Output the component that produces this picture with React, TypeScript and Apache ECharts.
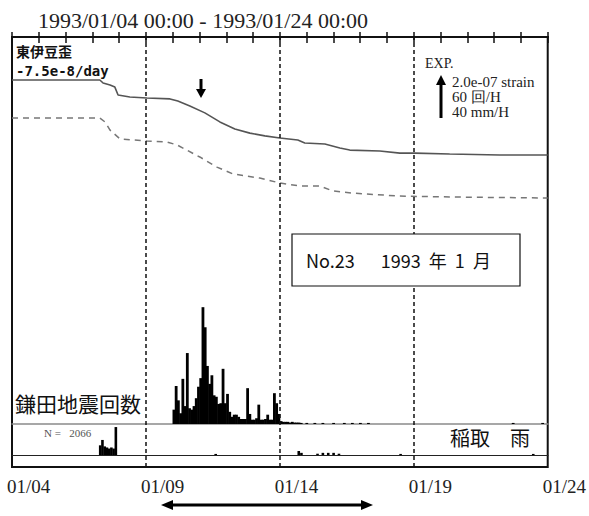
import { useEffect, useRef } from 'react';
import * as echarts from 'echarts';

// x axis: days since 1993/01/04 00:00
const tickLabels = ['01/04', '01/09', '01/14', '01/19', '01/24'];
const titleText = '1993/01/04 00:00 - 1993/01/24 00:00';

// strain (units of 1e-8 strain, relative)
const solidDays = [0, 3.28, 3.4, 3.66, 3.84, 3.96, 4.4, 5.04, 5.9, 6.19, 6.64, 7.2, 7.76, 8.32, 8.88, 9.44, 10.0, 10.67, 10.93, 11.68, 12.24, 12.61, 13.73, 14.48, 15.04, 16.34, 18.21, 20];
const solidStrain = [-20, -20, -21.4, -22.3, -23.3, -27, -27.9, -28.4, -28.8, -29.8, -32.1, -35.3, -39.5, -42.8, -44.7, -46, -47, -47.9, -49.3, -49.8, -51.6, -52.6, -53, -54, -54, -54.4, -54.9, -54.9];
const dashedDays = [0, 3.28, 3.47, 3.66, 4.03, 5.04, 5.78, 6.16, 7.01, 7.65, 8.25, 9.25, 10.0, 10.75, 11.49, 11.98, 12.72, 14.48, 16.34, 20];
const dashedStrain = [-37.7, -37.7, -39.5, -43.3, -47.4, -48.4, -48.8, -50.2, -55.8, -60.5, -63.7, -65.6, -67.9, -69.3, -69.3, -71.6, -72.6, -74, -74.4, -74.9];

// earthquake counts per hour, 2-hour bins from 01/10 00:00
const quakeStartDay = 6;
const quakeBinDays = 2 / 24;
const quakeCounts = [20, 53, 33, 15, 63, 25, 99, 22, 20, 25, 36, 52, 64, 163, 135, 81, 56, 68, 40, 38, 28, 29, 77, 29, 42, 17, 10, 13, 13, 10, 7, 7, 7, 50, 14, 6, 6, 8, 27, 6, 6, 7, 13, 6, 6, 43, 29, 14, 4, 3, 3, 3, 2, 3, 2, 2, 2, 1.5];
const quakeTailDays = [11.0, 11.3, 11.6, 12.0, 12.4, 12.7, 13.0, 13.3, 18.7, 19.8];
const quakeTailCounts = [1.5, 1.5, 1.5, 1.5, 1.5, 1.5, 1.5, 1.5, 1.5, 1.5];

// rain mm per hour, 2-hour bins from 01/07 06:00
const rainStartDay = 3.25;
const rainBinDays = 2 / 24;
const rainValues = [9, 14, 8, 7, 6, 7, 6, 26];
const rainTailDays = [7.6, 10.7, 10.8, 11.4, 11.6, 11.8, 12.0, 12.2, 14.5, 19.45];
const rainTailValues = [1, 3.7, 2, 1.2, 2, 2, 2, 1.2, 1, 1];

// scale bar: 43 px = 2.0e-07 strain = 60 counts/H = 40 mm/H
const SCALE_PX = 43;
const STRAIN_SCALE = 20;
const QUAKE_SCALE = 60;
const RAIN_SCALE = 40;

const W = 589;
const H = 516;
const L = 12;
const R = 548;
const TOP = 37;
const BOT = 467;
const QUAKE_BASE = 424;
const QUAKE_TOP = 300;
const RAIN_BASE = 455;

const SERIF = 'Liberation Serif';
const JP = 'Noto Sans CJK JP';

export default function App() {
  const ref = useRef<HTMLDivElement>(null);
  useEffect(() => {
    if (!ref.current) return;
    const chart = echarts.init(ref.current, null, { renderer: 'svg' });

    const quakeData: number[][] = quakeCounts.map((c, i) => [quakeStartDay + (i + 0.5) * quakeBinDays, c]);
    quakeTailDays.forEach((d, i) => quakeData.push([d, quakeTailCounts[i]]));
    const rainData: number[][] = rainValues.map((c, i) => [rainStartDay + (i + 0.5) * rainBinDays, c]);
    rainTailDays.forEach((d, i) => rainData.push([d, rainTailValues[i]]));

    const strainGridH = BOT - TOP;
    const quakeGridH = QUAKE_BASE - QUAKE_TOP;
    const rainGridH = RAIN_BASE - QUAKE_BASE;

    const baseX = {
      type: 'value',
      min: 0,
      max: 20,
      interval: 1,
      splitLine: { show: false },
    };

    const txt = (text: string, x: number, y: number, font: string, fill = '#111') => ({
      type: 'text',
      x,
      y,
      style: { text, font, fill, textVerticalAlign: 'middle', verticalAlign: 'middle' },
      z: 100,
    });

    chart.setOption({
      animation: false,
      backgroundColor: '#fff',
      title: {
        text: titleText,
        left: 38,
        top: 9,
        padding: 0,
        textStyle: { fontFamily: SERIF, fontSize: 22, fontWeight: 'normal', color: '#222' },
      },
      grid: [
        { left: L, width: R - L, top: TOP, height: strainGridH, show: true, borderColor: '#111', borderWidth: 2, backgroundColor: 'transparent' },
        { left: L, width: R - L, top: QUAKE_TOP, height: quakeGridH },
        { left: L, width: R - L, top: QUAKE_BASE, height: rainGridH },
      ],
      xAxis: [
        {
          ...baseX,
          gridIndex: 0,
          position: 'bottom',
          axisLine: { show: true, lineStyle: { color: '#111', width: 2 } },
          axisTick: { show: true, inside: true, length: 5, lineStyle: { color: '#111', width: 1.5 } },
          axisLabel: {
            show: true,
            margin: 10,
            align: 'left',
            padding: [0, 0, 0, -5],
            fontFamily: SERIF,
            fontSize: 19,
            color: '#222',
            formatter: (v: number) => (v % 5 === 0 ? tickLabels[v / 5] : ''),
          },
        },
        {
          ...baseX,
          gridIndex: 0,
          position: 'top',
          axisLine: { show: true, lineStyle: { color: '#111', width: 2 } },
          axisTick: { show: true, inside: true, length: 6, lineStyle: { color: '#111', width: 1.5 } },
          axisLabel: { show: false },
        },
        {
          ...baseX,
          gridIndex: 1,
          axisLine: { show: true, lineStyle: { color: '#8a8a8a', width: 1.5 } },
          axisTick: { show: false },
          axisLabel: { show: false },
        },
        {
          ...baseX,
          gridIndex: 2,
          axisLine: { show: true, lineStyle: { color: '#222', width: 1.2 } },
          axisTick: { show: false },
          axisLabel: { show: false },
        },
      ],
      yAxis: [
        { type: 'value', gridIndex: 0, min: -(strainGridH / SCALE_PX) * STRAIN_SCALE, max: 0, show: false, splitLine: { show: false } },
        { type: 'value', gridIndex: 1, min: 0, max: (quakeGridH / SCALE_PX) * QUAKE_SCALE, show: false, splitLine: { show: false } },
        { type: 'value', gridIndex: 2, min: 0, max: (rainGridH / SCALE_PX) * RAIN_SCALE, show: false, splitLine: { show: false } },
      ],
      series: [
        {
          type: 'line',
          name: 'strain',
          xAxisIndex: 0,
          yAxisIndex: 0,
          data: solidDays.map((d, i) => [d, solidStrain[i]]),
          symbol: 'none',
          lineStyle: { color: '#555', width: 1.6 },
          markLine: {
            silent: true,
            symbol: 'none',
            label: { show: false },
            lineStyle: { color: '#111', type: [4, 3], width: 1.5 },
            data: [{ xAxis: 5 }, { xAxis: 10 }, { xAxis: 15 }],
          },
        },
        {
          type: 'line',
          name: 'strain corrected',
          xAxisIndex: 0,
          yAxisIndex: 0,
          data: dashedDays.map((d, i) => [d, dashedStrain[i]]),
          symbol: 'none',
          lineStyle: { color: '#777', width: 1.5, type: [6, 5] },
        },
        {
          type: 'bar',
          name: 'quakes',
          xAxisIndex: 2,
          yAxisIndex: 1,
          data: quakeData,
          barWidth: 2.8,
          itemStyle: { color: '#000' },
        },
        {
          type: 'bar',
          name: 'rain',
          xAxisIndex: 3,
          yAxisIndex: 2,
          data: rainData,
          barWidth: 2.6,
          itemStyle: { color: '#000' },
        },
      ],
      graphic: [
        txt('東伊豆歪', 16, 51, `bold 14px ${JP}`),
        txt('-7.5e-8/day', 16, 71, "bold 14px 'DejaVu Sans Mono'"),
        txt('EXP.', 425, 63, `14px ${SERIF}`, '#222'),
        txt('2.0e-07 strain', 452, 82, `15px ${SERIF}`, '#222'),
        txt('60 回/H', 452, 97, `15px ${SERIF}`, '#222'),
        txt('40 mm/H', 452, 112, `15px ${SERIF}`, '#222'),
        { type: 'line', shape: { x1: 441, y1: 82, x2: 441, y2: 118 }, style: { stroke: '#000', lineWidth: 3 }, z: 100 },
        { type: 'polygon', shape: { points: [[436, 85], [446, 85], [441, 75]] }, style: { fill: '#000' }, z: 100 },
        { type: 'line', shape: { x1: 201, y1: 79, x2: 201, y2: 91 }, style: { stroke: '#000', lineWidth: 3 }, z: 100 },
        { type: 'polygon', shape: { points: [[196, 89], [206, 89], [201, 98]] }, style: { fill: '#000' }, z: 100 },
        { type: 'rect', shape: { x: 292, y: 234, width: 228, height: 52 }, style: { fill: '#fff', stroke: '#111', lineWidth: 1.2 }, z: 90 },
        txt('No.23　  1993  年  1  月', 306, 260, `18px ${JP}`),
        txt('鎌田地震回数', 15, 403, `21px ${JP}`),
        txt('N =   2066', 44, 433, `11px ${SERIF}`, '#555'),
        txt('稲取　雨', 450, 437, `20px ${JP}`),
        { type: 'line', shape: { x1: 168, y1: 505, x2: 366, y2: 505 }, style: { stroke: '#000', lineWidth: 3 }, z: 100 },
        { type: 'polygon', shape: { points: [[161, 505], [173, 500], [173, 510]] }, style: { fill: '#000' }, z: 100 },
        { type: 'polygon', shape: { points: [[373, 505], [361, 500], [361, 510]] }, style: { fill: '#000' }, z: 100 },
      ],
    });
    return () => chart.dispose();
  }, []);
  return <div ref={ref} style={{ position: 'absolute', left: 0, top: 0, width: W, height: H }} />;
}
